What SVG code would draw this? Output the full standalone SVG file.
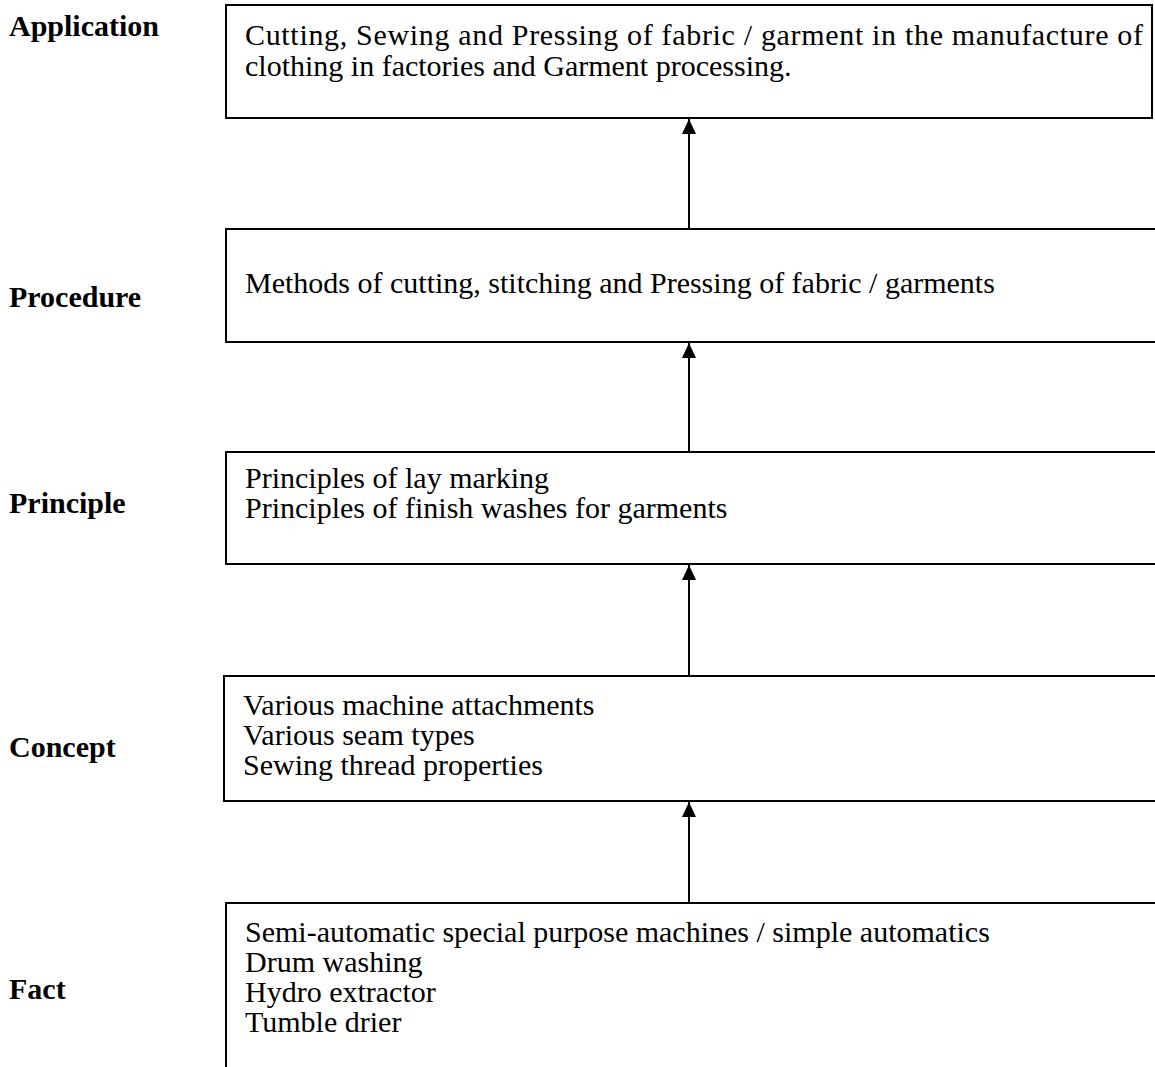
<svg xmlns="http://www.w3.org/2000/svg" width="1155" height="1067" viewBox="0 0 1155 1067">
<style>
.box{fill:#fff;stroke:#000;stroke-width:2}
.t{font-family:"Liberation Serif","Times New Roman",serif;font-size:30px;fill:#000}
.lbl{font-family:"Liberation Serif","Times New Roman",serif;font-size:30px;font-weight:bold;fill:#000}
.conn{stroke:#000;stroke-width:2;fill:none}
</style>
<defs>
<marker id="ah" viewBox="0 0 15 14" refX="15" refY="7" markerWidth="15" markerHeight="14" markerUnits="userSpaceOnUse" orient="auto">
<path d="M0,0 L15,7 L0,14 Z" fill="#000"/>
</marker>
</defs>
<rect width="1155" height="1067" fill="#fff"/>
<g id="connectors">
<line class="conn" x1="689" y1="229" x2="689" y2="119" marker-end="url(#ah)"/>
<line class="conn" x1="689" y1="453" x2="689" y2="343" marker-end="url(#ah)"/>
<line class="conn" x1="689" y1="676" x2="689" y2="565" marker-end="url(#ah)"/>
<line class="conn" x1="689" y1="903" x2="689" y2="802" marker-end="url(#ah)"/>
</g>
<g id="application">
<text class="lbl" x="9" y="36">Application</text>
<rect class="box" x="226" y="5" width="926" height="113"/>
<text class="t" x="245" y="45" textLength="898" lengthAdjust="spacing">Cutting, Sewing and Pressing of fabric / garment in the manufacture of</text>
<text class="t" x="245" y="76">clothing in factories and Garment processing.</text>
</g>
<g id="procedure">
<text class="lbl" x="9" y="307">Procedure</text>
<rect class="box" x="226" y="229" width="940" height="113"/>
<text class="t" x="245" y="293">Methods of cutting, stitching and Pressing of fabric / garments</text>
</g>
<g id="principle">
<text class="lbl" x="9" y="513">Principle</text>
<rect class="box" x="226" y="452" width="940" height="112"/>
<text class="t" x="245" y="488">Principles of lay marking</text>
<text class="t" x="245" y="518">Principles of finish washes for garments</text>
</g>
<g id="concept">
<text class="lbl" x="9" y="757">Concept</text>
<rect class="box" x="224" y="676" width="942" height="125"/>
<text class="t" x="243" y="715">Various machine attachments</text>
<text class="t" x="243" y="745">Various seam types</text>
<text class="t" x="243" y="775">Sewing thread properties</text>
</g>
<g id="fact">
<text class="lbl" x="9" y="999">Fact</text>
<rect class="box" x="226" y="903" width="940" height="200"/>
<text class="t" x="245" y="942">Semi-automatic special purpose machines / simple automatics</text>
<text class="t" x="245" y="972">Drum washing</text>
<text class="t" x="245" y="1002">Hydro extractor</text>
<text class="t" x="245" y="1032">Tumble drier</text>
</g>
</svg>
